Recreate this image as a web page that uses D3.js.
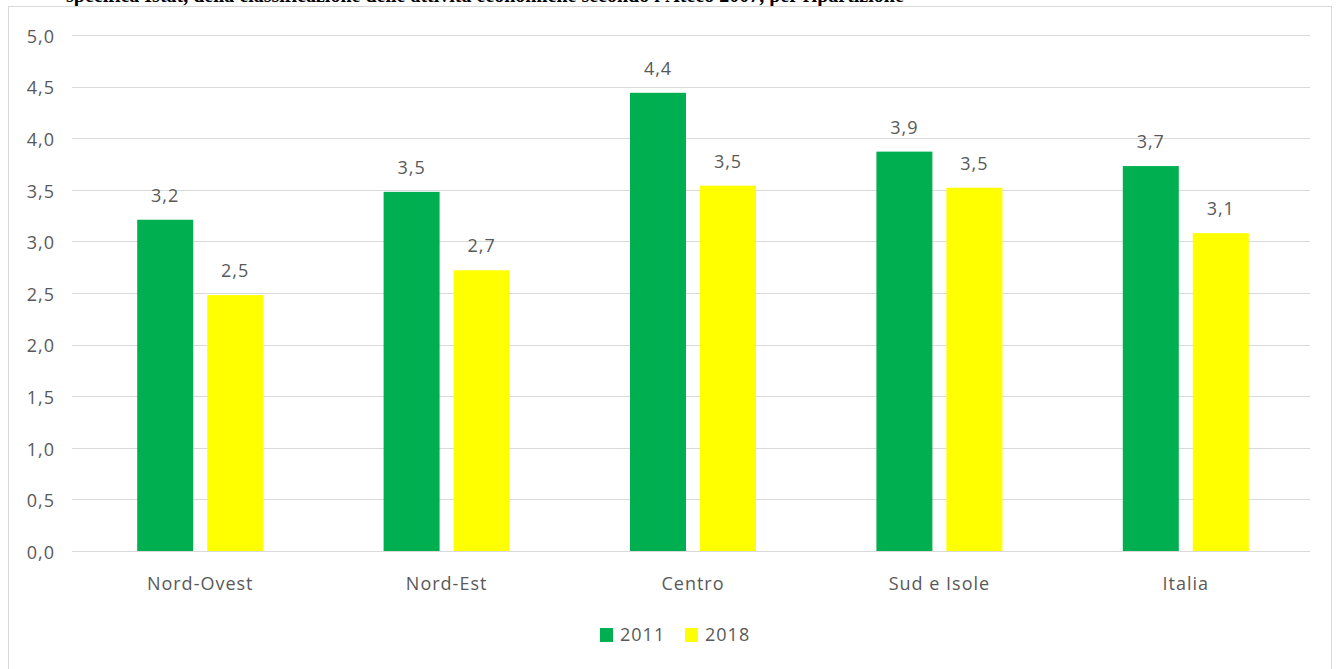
<!DOCTYPE html>
<html><head><meta charset="utf-8">
<script src="https://cdn.jsdelivr.net/npm/d3@7"></script>
<style>
html,body{margin:0;padding:0;background:#fff;overflow:hidden;}
svg{display:block;}
text{font-family:"Open Sans",sans-serif;fill:#595959;}
</style></head>
<body>
<svg id="c" width="1342" height="669"></svg>
<script>
const categories = ["Nord-Ovest","Nord-Est","Centro","Sud e Isole","Italia"];
const seriesNames = ["2011","2018"];
const values2011 = [3.21, 3.48, 4.44, 3.87, 3.73];
const values2018 = [2.48, 2.72, 3.54, 3.52, 3.08];
const yTicks = [0,0.5,1,1.5,2,2.5,3,3.5,4,4.5,5];
const colors = ["#00B050","#FFFF00"];
const titleText = "specifica Istat, della classificazione delle attività economiche secondo l'Ateco 2007, per ripartizione";

const svg = d3.select("#c");
// cut-off title at top (only its lower edge is visible, as in the reference)
svg.append("text").attr("x",66).attr("y",1.5)
  .style("font-family","'Liberation Serif',serif").style("font-weight","bold")
  .style("font-size","20px").style("fill","#000").text(titleText);

// frame
svg.append("rect").attr("x",8.5).attr("y",6.5).attr("width",1323).attr("height",670)
  .attr("fill","none").attr("stroke","#d9d9d9").attr("stroke-width",1);

const x0 = 77, x1 = 1309, yTop = 35, yBot = 551;
const x = d3.scaleBand().domain(categories).range([x0,x1]);
const y = d3.scaleLinear().domain([0,5]).range([yBot,yTop]);
const fmt = v => d3.format(".1f")(v).replace(".",",");
const FS = "18px", LS = "1px";

// gridlines
svg.append("g").selectAll("line").data(yTicks).join("line")
  .attr("x1",72).attr("x2",1310)
  .attr("y1",d=>Math.round(y(d))+0.5).attr("y2",d=>Math.round(y(d))+0.5)
  .attr("stroke","#d9d9d9").attr("stroke-width",1);

// y axis labels
const yAxis = d3.axisLeft(y).tickValues(yTicks).tickFormat(fmt).tickSize(0).tickPadding(0);
const ga = svg.append("g").attr("transform","translate(55,1)").call(yAxis);
ga.select(".domain").remove();
ga.selectAll("text").style("font-size",FS).style("letter-spacing",LS).style("fill","#595959").attr("dy","0.35em");

// x axis labels
const xAxis = d3.axisBottom(x).tickSize(0).tickPadding(0);
const gx = svg.append("g").attr("transform","translate(0,590)").call(xAxis);
gx.select(".domain").remove();
gx.selectAll("text").style("font-size",FS).style("letter-spacing",LS).style("fill","#595959").attr("dy","0");

const barW = 56, gap = 14;
const series = [values2011, values2018];
series.forEach((vals,si)=>{
  const g = svg.append("g");
  const cx = c => x(c) + x.bandwidth()/2 + (si===0 ? -(gap/2+barW) : gap/2);
  g.selectAll("rect").data(categories).join("rect")
    .attr("x",(c)=>cx(c)).attr("width",barW)
    .attr("y",(c,i)=>y(vals[i])).attr("height",(c,i)=>y(0)-y(vals[i]))
    .attr("fill",colors[si]);
  g.selectAll("text").data(categories).join("text")
    .attr("x",c=>cx(c)+barW/2).attr("y",(c,i)=>y(vals[i])-18)
    .attr("text-anchor","middle").style("font-size",FS).style("letter-spacing",LS)
    .text((c,i)=>fmt(vals[i]));
});

// legend
const leg = svg.append("g");
const legX = [600, 685];
seriesNames.forEach((s,i)=>{
  leg.append("rect").attr("x",legX[i]).attr("y",628).attr("width",13).attr("height",14).attr("fill",colors[i]);
  leg.append("text").attr("x",legX[i]+20).attr("y",641)
    .style("font-size",FS).style("letter-spacing",LS).text(s);
});
</script>
</body></html>
